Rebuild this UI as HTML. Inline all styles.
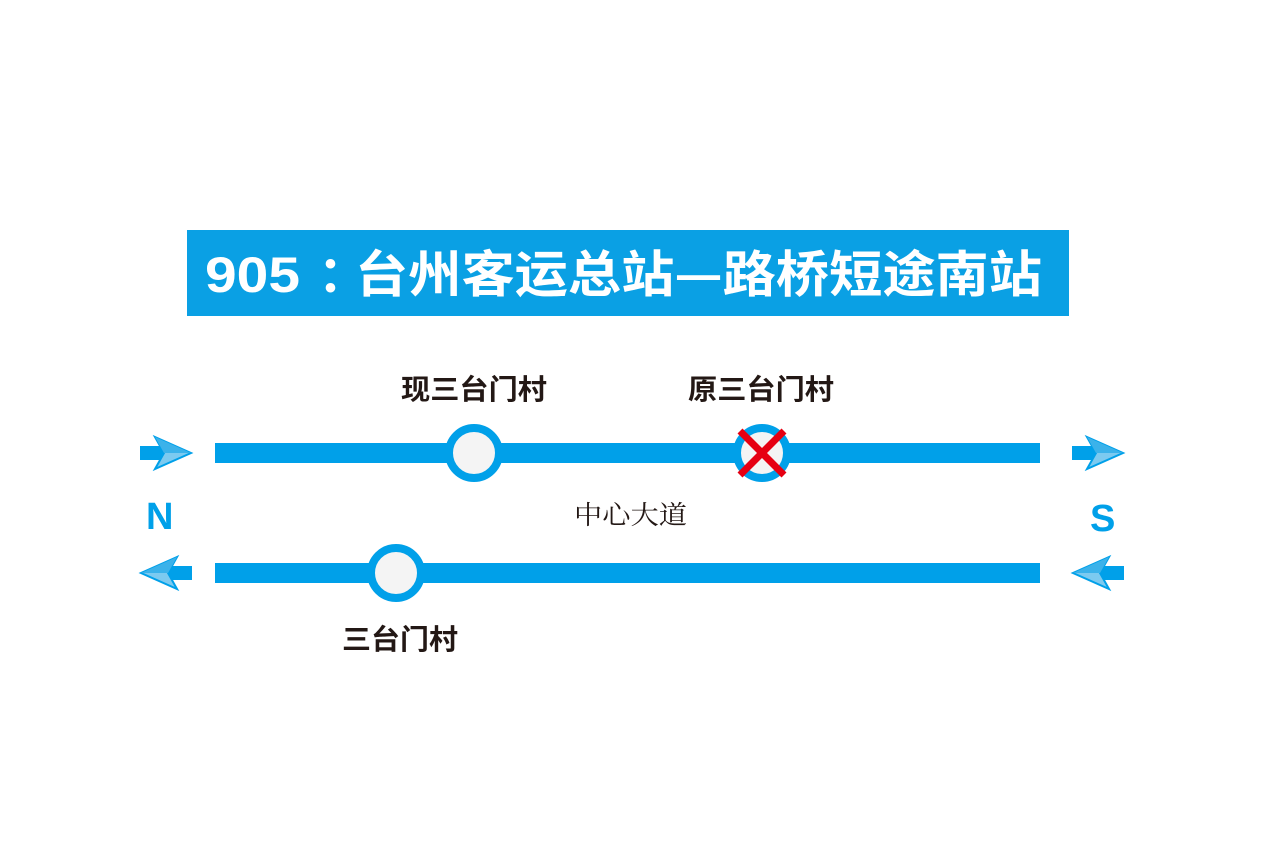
<!DOCTYPE html>
<html><head><meta charset="utf-8"><style>
html,body{margin:0;padding:0;background:#fff;}
</style></head><body>
<svg width="1266" height="844" viewBox="0 0 1266 844" xmlns="http://www.w3.org/2000/svg">
<rect width="1266" height="844" fill="#fff"/>
<rect x="187" y="230" width="882" height="86" fill="#0aa0e4"/>
<text x="205" y="292" font-family="Liberation Sans, sans-serif" font-weight="bold" font-size="50" fill="#fff" textLength="95" lengthAdjust="spacingAndGlyphs">905</text>
<text x="318" y="292" font-family="Noto Sans CJK SC, sans-serif" font-weight="bold" font-size="50" fill="#fff">：</text>
<text x="355" y="292" font-family="Noto Sans CJK SC, sans-serif" font-weight="bold" font-size="50" fill="#fff" textLength="687" lengthAdjust="spacingAndGlyphs">台州客运总站—路桥短途南站</text>

<g fill="#00a0e9">
<rect x="215" y="443" width="825" height="20"/>
<rect x="215" y="563" width="825" height="20"/>
</g>
<g font-family="Noto Sans CJK SC, sans-serif" font-weight="bold" font-size="28" fill="#231815">
<text x="401" y="399" textLength="146" lengthAdjust="spacingAndGlyphs">现三台门村</text>
<text x="688" y="399" textLength="146" lengthAdjust="spacingAndGlyphs">原三台门村</text>
<text x="342" y="649" textLength="116" lengthAdjust="spacingAndGlyphs">三台门村</text>
</g>
<circle cx="474" cy="453" r="25" fill="#f4f4f4" stroke="#00a0e9" stroke-width="8"/>
<circle cx="762" cy="453" r="25" fill="#f4f4f4" stroke="#00a0e9" stroke-width="8"/>
<circle cx="396" cy="573" r="25" fill="#f4f4f4" stroke="#00a0e9" stroke-width="8"/>
<g stroke="#e60012" stroke-width="7">
<line x1="740" y1="431" x2="784" y2="475"/>
<line x1="784" y1="431" x2="740" y2="475"/>
</g>
<text x="574" y="524" font-family="Noto Serif CJK SC, serif" font-size="26" fill="#231815" textLength="113" lengthAdjust="spacingAndGlyphs">中心大道</text>
<g font-family="Liberation Sans, sans-serif" font-weight="bold" font-size="38" fill="#00a0e9">
<text x="146" y="529">N</text>
<text x="1090" y="531">S</text>
</g>
<defs>
<g id="ar">
<rect x="0" y="-7" width="26" height="14" fill="#00a0e9"/>
<polygon points="15,-16 51,0 15,16 24,0" fill="#7ccaf0" stroke="#00a0e9" stroke-width="2"/>
<polygon points="15,-16 51,0 24,0" fill="#3bb2ea"/>
</g>
</defs>
<use href="#ar" transform="translate(140,453)"/>
<use href="#ar" transform="translate(1072,453)"/>
<use href="#ar" transform="translate(192,573) scale(-1,1)"/>
<use href="#ar" transform="translate(1124,573) scale(-1,1)"/>
</svg>
</body></html>
